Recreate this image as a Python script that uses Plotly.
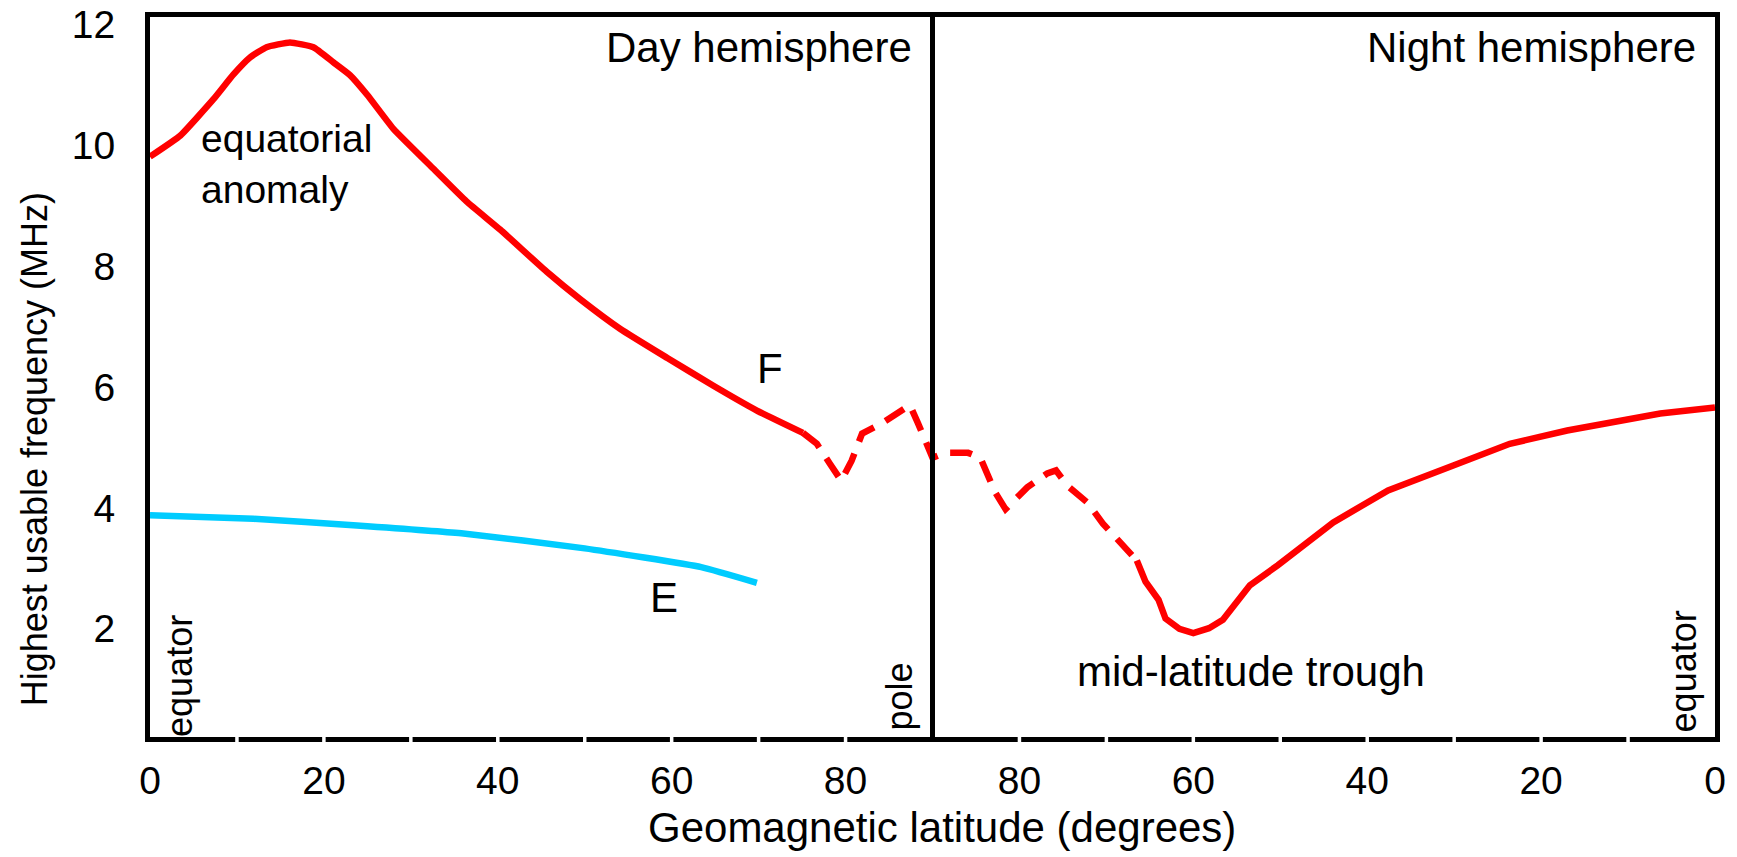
import plotly.graph_objects as go

# ---------------- data ----------------
# Day-side F layer (solid), geomagnetic latitude in degrees, MHz
f_day_lat = [0, 3.5, 7.3, 9.6, 11.5, 13.4, 16.1, 18.8, 21.1, 23.0, 25.0, 28.0,
             32.6, 36.4, 40.3, 45.6, 49.5, 54.1, 59.5, 64.8, 69.8, 75.1]
f_day_mhz = [9.81, 10.16, 10.76, 11.17, 11.45, 11.62, 11.70, 11.62, 11.37, 11.16,
             10.83, 10.27, 9.61, 9.07, 8.60, 7.91, 7.45, 6.96, 6.48, 6.02, 5.61, 5.24]

# Polar F layer (dashed) - day side part
f_polar_day_lat = [75.1, 76.7, 78.2, 79.5, 80.7, 81.9, 84.3, 87.4, 88.3, 89.5, 90.0]
f_polar_day_mhz = [5.24, 5.06, 4.73, 4.45, 4.78, 5.23, 5.41, 5.70, 5.41, 4.98, 4.83]
# Polar F layer (dashed) - night side part
f_polar_night_lat = [88.6, 85.9, 84.5, 84.0, 82.8, 81.6, 79.1, 76.8, 75.8, 74.5, 72.2, 70.4, 66.5]
f_polar_night_mhz = [4.91, 4.91, 4.83, 4.65, 4.26, 3.98, 4.34, 4.57, 4.62, 4.37, 4.09, 3.74, 3.13]

# Night-side F layer (solid)
f_night_lat = [66.5, 65.5, 64.0, 63.2, 61.6, 60.0, 58.2, 56.6, 53.5, 50.3, 43.9,
               37.6, 30.1, 23.6, 17.0, 6.3, 0.0]
f_night_mhz = [3.13, 2.78, 2.48, 2.17, 2.00, 1.93, 2.01, 2.15, 2.72, 3.05, 3.76,
               4.29, 4.70, 5.06, 5.28, 5.56, 5.66]

# Day-side E layer
e_day_lat = [0, 11.9, 23.8, 35.8, 50.0, 63.4, 69.8]
e_day_mhz = [3.88, 3.82, 3.71, 3.58, 3.33, 3.02, 2.76]

# axis ticks
x_tick_lat = [0, 20, 40, 60, 80]
y_ticks = [2, 4, 6, 8, 10, 12]
x_gap_lat = [10, 20, 30, 40, 50, 60, 70, 80]

POLE = 90.0


def day_x(lats):
    return list(lats)


def night_x(lats):
    return [2 * POLE - v for v in lats]


RED = "#ff0000"
CYAN = "#00ccff"
FONT = "Liberation Sans, Arial, sans-serif"

fig = go.Figure()

fig.add_trace(go.Scatter(x=day_x(f_day_lat), y=f_day_mhz, mode="lines",
                         line=dict(color=RED, width=6.5, shape="spline", smoothing=0.4),
                         showlegend=False, hoverinfo="skip"))
fig.add_trace(go.Scatter(x=day_x(f_polar_day_lat) + night_x(f_polar_night_lat),
                         y=f_polar_day_mhz + f_polar_night_mhz, mode="lines",
                         line=dict(color=RED, width=6.5, dash="22px,13px"),
                         showlegend=False, hoverinfo="skip"))
fig.add_trace(go.Scatter(x=night_x(f_night_lat), y=f_night_mhz, mode="lines",
                         line=dict(color=RED, width=6.5),
                         showlegend=False, hoverinfo="skip"))
fig.add_trace(go.Scatter(x=day_x(e_day_lat), y=e_day_mhz, mode="lines",
                         line=dict(color=CYAN, width=6.5, shape="spline", smoothing=0.4),
                         showlegend=False, hoverinfo="skip"))

# pole divider
fig.add_vline(x=POLE, line=dict(color="black", width=5), layer="above")

# small white gaps cut into the bottom axis line every 10 degrees
for gx in day_x(x_gap_lat) + night_x(x_gap_lat):
    fig.add_shape(type="line", xref="x", yref="paper", ysizemode="pixel", yanchor=0,
                  x0=gx, x1=gx, y0=-9, y1=0, line=dict(color="white", width=3.5),
                  layer="above")

tickvals = day_x(x_tick_lat) + night_x(x_tick_lat[::-1])
ticktext = [str(v) for v in x_tick_lat] + [str(v) for v in x_tick_lat[::-1]]

fig.update_layout(
    width=1737, height=857,
    margin=dict(l=150, r=22, t=16.5, b=119.5),
    paper_bgcolor="white", plot_bgcolor="white",
    font=dict(family=FONT, color="black", size=39),
    xaxis=dict(range=[0, 2 * POLE], showgrid=False, zeroline=False, showline=True,
               linecolor="black", linewidth=5, mirror=True, ticks="", automargin=False,
               tickvals=tickvals, ticktext=ticktext, tickfont=dict(size=39),
               ticklabelstandoff=5),
    yaxis=dict(range=[0.21, 12.12], showgrid=False, zeroline=False, showline=True,
               linecolor="black", linewidth=5, mirror=True, ticks="", automargin=False,
               tickvals=y_ticks, tickfont=dict(size=39), ticklabelstandoff=22),
)

ann = dict(showarrow=False, font=dict(family=FONT, size=42, color="black"))
fig.add_annotation(x=87.9, y=11.62, text="Day hemisphere", xanchor="right", yanchor="middle", **ann)
fig.add_annotation(x=178.05, y=11.62, text="Night hemisphere", xanchor="right", yanchor="middle", **ann)
fig.add_annotation(x=5.6, y=9.69, text="equatorial<br>anomaly", xanchor="left", yanchor="middle",
                   align="left", showarrow=False,
                   font=dict(family=FONT, size=39, color="black"))
fig.add_annotation(x=71.3, y=6.30, text="F", xanchor="center", yanchor="middle", **ann)
fig.add_annotation(x=59.1, y=2.51, text="E", xanchor="center", yanchor="middle", **ann)
fig.add_annotation(x=126.6, y=1.30, text="mid-latitude trough", xanchor="center", yanchor="middle", **ann)

rot = dict(showarrow=False, textangle=-90, font=dict(family=FONT, size=36, color="black"))
fig.add_annotation(x=3.45, y=1.22, text="equator", xanchor="center", yanchor="middle", **rot)
fig.add_annotation(x=86.15, y=0.88, text="pole", xanchor="center", yanchor="middle", **rot)
fig.add_annotation(x=176.4, y=1.29, text="equator", xanchor="center", yanchor="middle", **rot)

fig.add_annotation(xref="paper", yref="paper", x=-0.074, y=0.40,
                   text="Highest usable frequency (MHz)", xanchor="center", yanchor="middle",
                   **rot)
fig.add_annotation(xref="paper", yref="paper", x=0.506, y=-0.125,
                   text="Geomagnetic latitude (degrees)", xanchor="center", yanchor="middle",
                   **ann)

fig.write_html("out.html")
